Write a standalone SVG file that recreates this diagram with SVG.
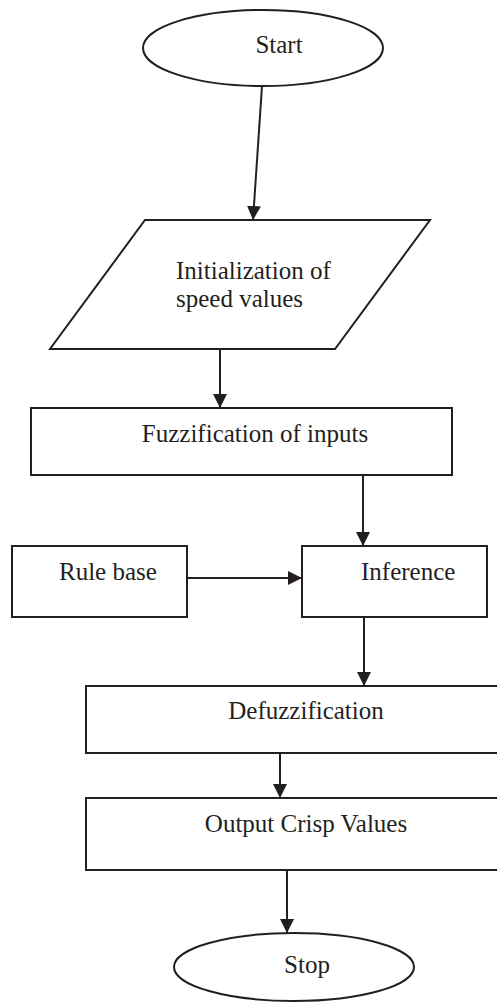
<svg xmlns="http://www.w3.org/2000/svg" width="497" height="1003" viewBox="0 0 497 1003">
<style>
.s{fill:#fff;stroke:#231f20;stroke-width:2}
.t{font-family:"Liberation Serif","Times New Roman",serif;font-size:25px;fill:#231f20}
.c{text-anchor:middle}
.e{stroke:#231f20;stroke-width:2;fill:none;marker-end:url(#ah)}
</style>
<defs>
<marker id="ah" markerUnits="userSpaceOnUse" markerWidth="14" markerHeight="14" refX="14" refY="7" orient="auto">
<path d="M0,0 L14,7 L0,14 z" fill="#231f20"/>
</marker>
</defs>
<rect width="497" height="1003" fill="#fff"/>
<g id="start"><ellipse class="s" cx="263" cy="48" rx="120" ry="38"/><text class="t c" x="279" y="53">Start</text></g>
<g id="init"><polygon class="s" points="145,220 430,220 335,349 50,349"/><text class="t" x="176" y="279">Initialization of</text><text class="t" x="176" y="307">speed values</text></g>
<g id="fuzz"><rect class="s" x="31" y="408" width="421" height="67"/><text class="t c" x="255" y="442">Fuzzification of inputs</text></g>
<g id="rule"><rect class="s" x="12" y="546" width="175" height="71"/><text class="t" x="59" y="580">Rule base</text></g>
<g id="inference"><rect class="s" x="302" y="546" width="185" height="71"/><text class="t" x="361" y="580">Inference</text></g>
<g id="defuzz"><rect class="s" x="86" y="686" width="440" height="67"/><text class="t c" x="306" y="719">Defuzzification</text></g>
<g id="output"><rect class="s" x="86" y="798" width="440" height="72"/><text class="t c" x="306" y="832">Output Crisp Values</text></g>
<g id="stop"><ellipse class="s" cx="294" cy="967" rx="120" ry="34"/><text class="t c" x="307" y="973">Stop</text></g>
<g id="connectors">
<line class="e" x1="262" y1="86" x2="253" y2="220"/>
<line class="e" x1="220" y1="349" x2="220" y2="408"/>
<line class="e" x1="363" y1="475" x2="363" y2="546"/>
<line class="e" x1="187" y1="578" x2="302" y2="578"/>
<line class="e" x1="364" y1="617" x2="364" y2="686"/>
<line class="e" x1="280" y1="753" x2="280" y2="798"/>
<line class="e" x1="287" y1="870" x2="287" y2="933"/>
</g>
</svg>
